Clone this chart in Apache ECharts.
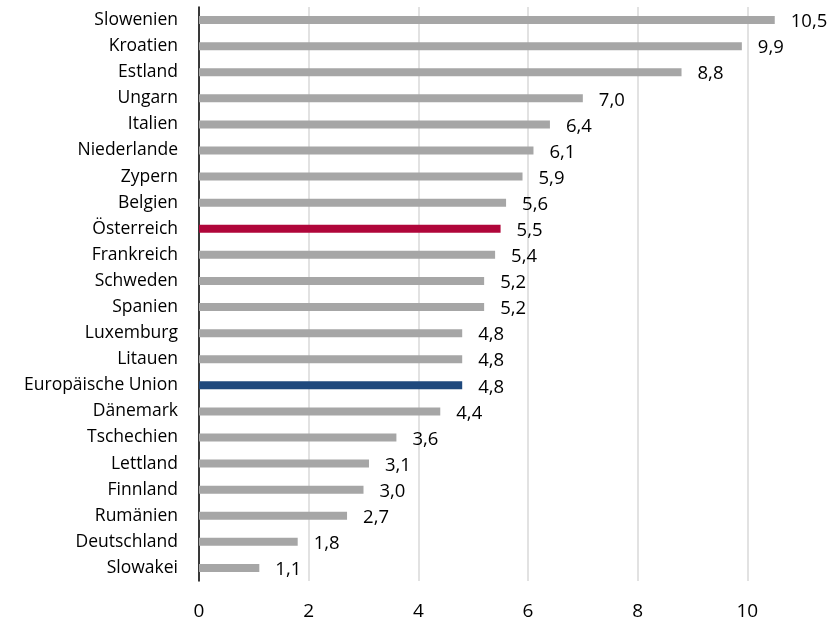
<!DOCTYPE html>
<html>
<head>
<meta charset="utf-8">
<script src="https://cdn.jsdelivr.net/npm/echarts@6/dist/echarts.min.js"></script>
<style>
  html, body { margin: 0; padding: 0; background: #fff; }
  #chart { width: 836px; height: 620px; }
</style>
</head>
<body>
<div id="chart"></div>
<script>
const countries = [
  "Slowenien", "Kroatien", "Estland", "Ungarn", "Italien", "Niederlande",
  "Zypern", "Belgien", "Österreich", "Frankreich", "Schweden", "Spanien",
  "Luxemburg", "Litauen", "Europäische Union", "Dänemark", "Tschechien",
  "Lettland", "Finnland", "Rumänien", "Deutschland", "Slowakei"
];
const values = [
  10.5, 9.9, 8.8, 7.0, 6.4, 6.1, 5.9, 5.6, 5.5, 5.4, 5.2, 5.2,
  4.8, 4.8, 4.8, 4.4, 3.6, 3.1, 3.0, 2.7, 1.8, 1.1
];
const xTicks = [0, 2, 4, 6, 8, 10];

const grey = "#a6a6a6";
const highlight = { "Österreich": "#b0063a", "Europäische Union": "#1f497d" };
const font = "'Open Sans', sans-serif";

const chart = echarts.init(document.getElementById("chart"));
chart.setOption({
  animation: false,
  grid: {
    left: 199, top: 7, width: 658, height: 574,
    containLabel: false, outerBoundsMode: "none",
  },
  xAxis: {
    type: "value",
    min: 0,
    max: 12,
    interval: 2,
    axisLine: { show: false },
    axisTick: { show: false },
    splitLine: { show: true, lineStyle: { color: "#d9d9d9", width: 1.5 } },
    axisLabel: {
      margin: 21,
      color: "#000",
      fontFamily: font,
      fontSize: 19,
      formatter: (v) => (xTicks.includes(v) ? String(v) : ""),
    },
  },
  yAxis: {
    type: "category",
    inverse: true,
    data: countries,
    axisLine: { show: true, lineStyle: { color: "#000", width: 1.5 } },
    axisTick: { show: false },
    axisLabel: { margin: 21, color: "#000", fontFamily: font, fontSize: 17.5 },
  },
  series: [
    {
      type: "bar",
      barWidth: 8,
      data: values.map((v, i) => ({
        value: v,
        itemStyle: { color: highlight[countries[i]] || grey },
      })),
      label: {
        show: true,
        position: "right",
        distance: 16,
        offset: [0, 2],
        color: "#000",
        fontFamily: font,
        fontSize: 18.5,
        formatter: (p) => p.value.toFixed(1).replace(".", ","),
      },
    },
  ],
});
</script>
</body>
</html>
